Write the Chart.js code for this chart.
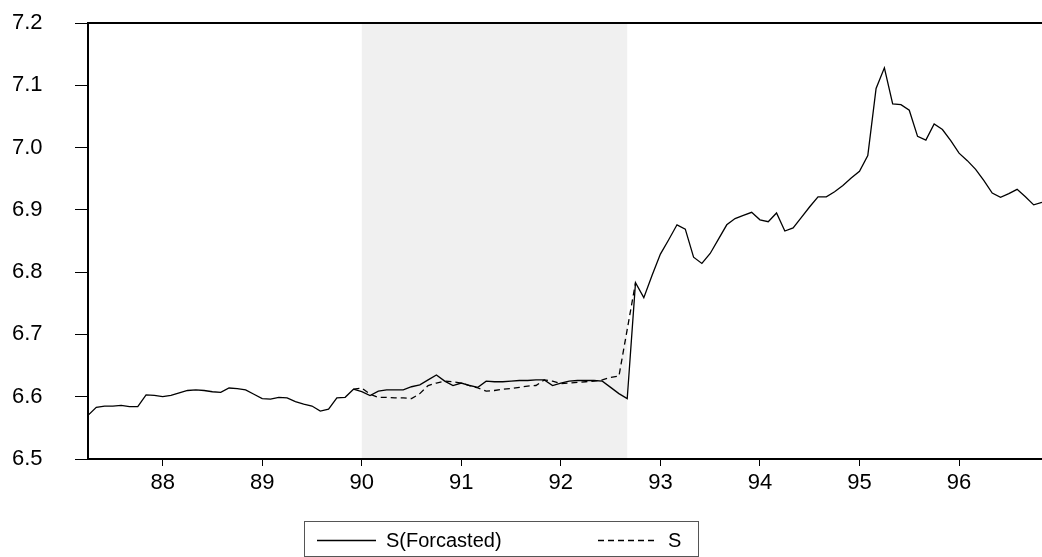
<!DOCTYPE html>
<html lang="en">
<head>
<meta charset="UTF-8">
<title>S(Forcasted) vs S</title>
<script src="https://cdn.jsdelivr.net/npm/chart.js"></script>
<style>
    html, body { margin: 0; padding: 0; background: #fff; }
    #wrap { position: relative; width: 1042px; height: 557px; }
</style>
</head>
<body>
<div id="wrap"><canvas id="chart" width="1042" height="557"></canvas></div>
<script>
// monthly sample 1987M04 .. 1996M11, x axis in two-digit years
const startYear = 87;
const startMonth = 4;
const forecastFrom = 90;          // shaded forecast window 1990M01 ..
const forecastTo = 92 + 8 / 12;   // .. 1992M09

// S(Forcasted), full sample
const sForecast = [
    6.570, 6.583, 6.585, 6.585, 6.586, 6.584, 6.584, 6.603, 6.602, 6.600,
    6.602, 6.606, 6.610, 6.611, 6.610, 6.608, 6.607, 6.614, 6.613, 6.611,
    6.604, 6.597, 6.596, 6.599, 6.598, 6.592, 6.588, 6.585, 6.577, 6.580,
    6.598, 6.599, 6.612, 6.608, 6.602, 6.609, 6.611, 6.611, 6.611, 6.616,
    6.619, 6.627, 6.635, 6.625, 6.618, 6.622, 6.618, 6.615, 6.625, 6.624,
    6.624, 6.625, 6.626, 6.626, 6.627, 6.627, 6.618, 6.622, 6.625, 6.626,
    6.626, 6.626, 6.625, 6.615, 6.605, 6.597, 6.783, 6.759, 6.795, 6.829,
    6.852, 6.876, 6.869, 6.824, 6.814, 6.830, 6.853, 6.876, 6.886, 6.891,
    6.896, 6.884, 6.881, 6.895, 6.866, 6.871, 6.888, 6.905, 6.921, 6.921,
    6.929, 6.939, 6.951, 6.962, 6.987, 7.095, 7.128, 7.070, 7.069, 7.060,
    7.018, 7.012, 7.038, 7.029, 7.011, 6.991, 6.979, 6.965, 6.947, 6.927,
    6.920, 6.926, 6.933, 6.921, 6.908, 6.912
];

// S, only where it separates from the forecast (1989M12 .. 1992M10)
const sActualStart = 32;
const sActual = [
    6.612, 6.614, 6.604, 6.599, 6.599, 6.598, 6.598, 6.597, 6.605, 6.618,
    6.622, 6.625, 6.624, 6.622, 6.618, 6.614, 6.609, 6.610, 6.612, 6.613,
    6.615, 6.617, 6.618, 6.627, 6.625, 6.621, 6.622, 6.623, 6.624, 6.625,
    6.627, 6.631, 6.633, 6.708, 6.783
];

const yMin = 6.5, yMax = 7.2, yStep = 0.1;
const xTickStep = 1;

const FONT = '"Liberation Sans", Arial, sans-serif';

const xOf = i => startYear + (startMonth - 1 + i) / 12;
const forecastPoints = sForecast.map((v, i) => ({ x: xOf(i), y: v }));
const actualPoints = sActual.map((v, i) => ({ x: xOf(sActualStart + i), y: v }));

const framePlugin = {
    id: 'frame',
    beforeDraw(chart) {
        const { ctx, chartArea, scales } = chart;
        const x1 = scales.x.getPixelForValue(forecastFrom);
        const x2 = scales.x.getPixelForValue(forecastTo);
        ctx.save();
        ctx.fillStyle = '#f0f0f0';
        ctx.fillRect(x1, chartArea.top, x2 - x1, chartArea.bottom - chartArea.top);
        ctx.restore();
    },
    afterDraw(chart) {
        const { ctx, chartArea } = chart;
        ctx.save();
        // top border
        ctx.strokeStyle = '#000';
        ctx.lineWidth = 2;
        ctx.beginPath();
        ctx.moveTo(chartArea.left - 1, chartArea.top);
        ctx.lineTo(chartArea.right, chartArea.top);
        ctx.stroke();

        // legend box
        ctx.lineWidth = 1;
        ctx.strokeStyle = '#555';
        ctx.strokeRect(304.5, 521.5, 394, 35);

        ctx.strokeStyle = '#000';
        ctx.lineWidth = 1.3;
        ctx.beginPath();
        ctx.moveTo(317, 540.5);
        ctx.lineTo(376, 540.5);
        ctx.stroke();
        ctx.setLineDash([6, 4]);
        ctx.beginPath();
        ctx.moveTo(598, 540.5);
        ctx.lineTo(658, 540.5);
        ctx.stroke();
        ctx.setLineDash([]);

        ctx.fillStyle = '#000';
        ctx.font = '20px ' + FONT;
        ctx.textBaseline = 'alphabetic';
        ctx.fillText('S(Forcasted)', 386, 547);
        ctx.fillText('S', 668, 547);
        ctx.restore();
    }
};

new Chart(document.getElementById('chart'), {
    type: 'line',
    data: {
        datasets: [
            {
                label: 'S(Forcasted)',
                data: forecastPoints,
                borderColor: '#000',
                borderWidth: 1.3,
                pointRadius: 0,
                tension: 0,
                fill: false
            },
            {
                label: 'S',
                data: actualPoints,
                borderColor: '#000',
                borderWidth: 1.3,
                borderDash: [6, 4],
                pointRadius: 0,
                tension: 0,
                fill: false
            }
        ]
    },
    options: {
        responsive: false,
        animation: false,
        layout: { padding: { top: 23, right: 0, bottom: 58, left: 12 } },
        plugins: {
            legend: { display: false },
            tooltip: { enabled: false }
        },
        scales: {
            x: {
                type: 'linear',
                min: xOf(0),
                max: xOf(sForecast.length - 1),
                afterFit: s => { s.height = 40; },
                grid: { drawOnChartArea: false, drawTicks: true, tickLength: 7, color: '#000', lineWidth: 1 },
                border: { color: '#000', width: 2 },
                ticks: {
                    stepSize: xTickStep,
                    includeBounds: false,
                    autoSkip: false,
                    maxRotation: 0,
                    padding: 4,
                    color: '#000',
                    font: { family: FONT, size: 22 },
                    callback: v => Number.isInteger(v) ? String(v) : ''
                }
            },
            y: {
                min: yMin,
                max: yMax,
                afterFit: s => { s.width = 76; },
                grid: { drawOnChartArea: false, drawTicks: true, tickLength: 13, color: '#000', lineWidth: 1 },
                border: { color: '#000', width: 2 },
                ticks: {
                    stepSize: yStep,
                    padding: 0,
                    crossAlign: 'far',
                    color: '#000',
                    font: { family: FONT, size: 22 },
                    callback: v => Number(v).toFixed(1)
                }
            }
        }
    },
    plugins: [framePlugin]
});
</script>
</body>
</html>
